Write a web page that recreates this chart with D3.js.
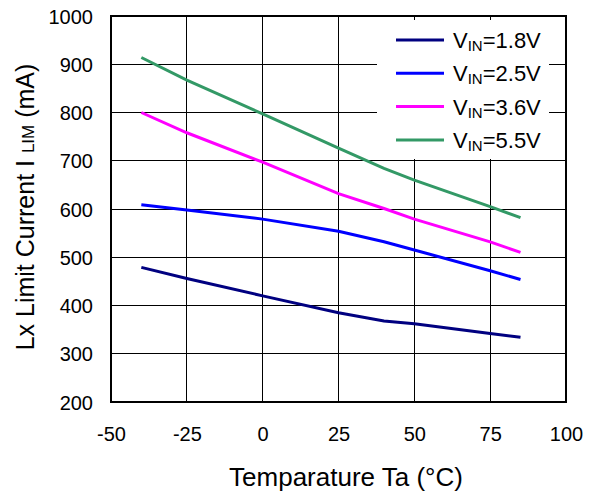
<!DOCTYPE html>
<html>
<head>
<meta charset="utf-8">
<script src="https://cdn.jsdelivr.net/npm/d3@7"></script>
<style>
  body { margin: 0; background: #fff; }
  text { font-family: "Liberation Sans", Arial, sans-serif; fill: #000; }
</style>
</head>
<body>
<div id="chart"></div>
<script>
// temperatures (degC) where the curves were measured
var temps = [-40, -25, 0, 25, 40, 50, 75, 85];

// Lx limit current in mA, one array per input voltage
var vin18 = [479, 456, 420, 385, 368, 362, 342, 334];
var vin25 = [609, 598, 579, 554, 532, 515, 472, 454];
var vin36 = [800, 758, 697, 632, 601, 579, 532, 510];
var vin55 = [914, 867, 797, 726, 684, 660, 605, 582];

var seriesNames = ["1.8V", "2.5V", "3.6V", "5.5V"];
var seriesColors = ["#000080", "#0000ff", "#ff00ff", "#339966"];

var xTicks = [-50, -25, 0, 25, 50, 75, 100];
var yTicks = [200, 300, 400, 500, 600, 700, 800, 900, 1000];

var width = 596, height = 493;
var margin = {top: 16, right: 30, bottom: 91, left: 111};

var svg = d3.select("#chart").append("svg")
  .attr("width", width).attr("height", height);

var x = d3.scaleLinear().domain([-50, 100]).range([margin.left, width - margin.right]);
var y = d3.scaleLinear().domain([200, 1000]).range([height - margin.bottom, margin.top]);

// grid
var grid = svg.append("g").attr("shape-rendering", "crispEdges");
grid.selectAll("line.gx").data(xTicks).enter().append("line")
  .attr("x1", function (d) { return x(d); })
  .attr("x2", function (d) { return x(d); })
  .attr("y1", y(200)).attr("y2", y(1000))
  .attr("stroke", "#000").attr("stroke-width", 1);
grid.selectAll("line.gy").data(yTicks).enter().append("line")
  .attr("x1", x(-50)).attr("x2", x(100))
  .attr("y1", function (d) { return y(d); })
  .attr("y2", function (d) { return y(d); })
  .attr("stroke", "#000").attr("stroke-width", 1);

// legend background covers the grid
svg.append("rect")
  .attr("x", 377).attr("y", 20).attr("width", 172).attr("height", 139)
  .attr("fill", "#fff");

// frame
svg.append("rect")
  .attr("x", x(-50)).attr("y", y(1000))
  .attr("width", x(100) - x(-50)).attr("height", y(200) - y(1000))
  .attr("fill", "none").attr("stroke", "#000").attr("stroke-width", 2)
  .attr("shape-rendering", "crispEdges");

// axes labels through d3 axes
var xAxis = svg.append("g")
  .attr("transform", "translate(0," + y(200) + ")")
  .call(d3.axisBottom(x).tickValues(xTicks).tickFormat(String).tickSize(0).tickPadding(0));
xAxis.select(".domain").remove();
xAxis.selectAll("text")
  .attr("y", 39).attr("dy", 0)
  .style("font-size", "20px")
  .style("font-family", "Liberation Sans, Arial, sans-serif");

var yAxis = svg.append("g")
  .attr("transform", "translate(" + x(-50) + ",0)")
  .call(d3.axisLeft(y).tickValues(yTicks).tickFormat(String).tickSize(0).tickPadding(18));
yAxis.select(".domain").remove();
yAxis.selectAll("text")
  .attr("dy", "0.35em")
  .style("font-size", "20px")
  .style("font-family", "Liberation Sans, Arial, sans-serif");

// data lines
var allSeries = [vin18, vin25, vin36, vin55];
var line = d3.line()
  .x(function (d, i) { return x(temps[i]); })
  .y(function (d) { return y(d); });

svg.selectAll("path.series").data(allSeries).enter().append("path")
  .attr("class", "series")
  .attr("d", line)
  .attr("fill", "none")
  .attr("stroke", function (d, i) { return seriesColors[i]; })
  .attr("stroke-width", 3);

// legend
var legend = svg.append("g");
var rows = legend.selectAll("g").data(seriesNames).enter().append("g")
  .attr("transform", function (d, i) { return "translate(0," + (40 + i * 33.3) + ")"; });
rows.append("line")
  .attr("x1", 396).attr("x2", 444).attr("y1", 0).attr("y2", 0)
  .attr("stroke", function (d, i) { return seriesColors[i]; })
  .attr("stroke-width", 3);
var lt = rows.append("text")
  .attr("x", 453).attr("y", 8)
  .style("font-size", "22px");
lt.append("tspan").text("V");
lt.append("tspan").attr("dy", 3).style("font-size", "15px").text("IN");
lt.append("tspan").attr("dy", -3).text(function (d) { return "=" + d; });

// axis titles
svg.append("text")
  .attr("x", 346).attr("y", 486)
  .attr("text-anchor", "middle")
  .style("font-size", "26px")
  .text("Temparature Ta (\u00B0C)");

var yt = svg.append("text")
  .attr("transform", "translate(34,207) rotate(-90)")
  .attr("text-anchor", "middle")
  .style("font-size", "25px");
yt.append("tspan").text("Lx Limit Current I ");
yt.append("tspan").style("font-size", "17px").text("LIM");
yt.append("tspan").text(" (mA)");
</script>
</body>
</html>
